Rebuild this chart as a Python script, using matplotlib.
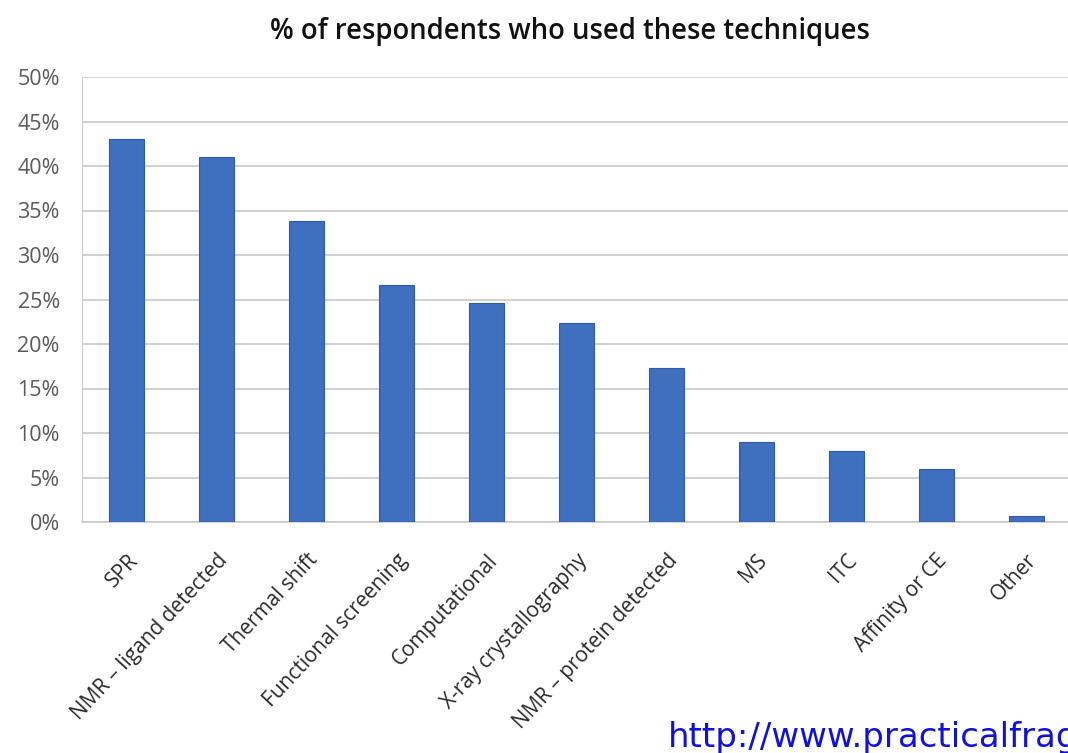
import matplotlib
matplotlib.use("Agg")
import matplotlib.pyplot as plt
import matplotlib.transforms as mtransforms
from matplotlib.ticker import PercentFormatter

categories = ["SPR", "NMR – ligand detected", "Thermal shift", "Functional screening",
              "Computational", "X-ray crystallography", "NMR – protein detected",
              "MS", "ITC", "Affinity or CE", "Other"]
values = [43.0, 41.0, 33.8, 26.6, 24.6, 22.4, 17.3, 9.0, 8.0, 5.9, 0.7]
yticks = [0, 5, 10, 15, 20, 25, 30, 35, 40, 45, 50]

plt.rcParams['font.family'] = ['Open Sans', 'DejaVu Sans']

fig = plt.figure(figsize=(10.68, 7.53), dpi=100)
ax = fig.add_axes([82/1068, 1-522/753, (1071-82)/1068, (522-77)/753])

x = list(range(len(categories)))
ax.bar(x, values, width=0.39, color="#3f6fbf", edgecolor="#2f5aa8", linewidth=0.8, zorder=3)

ax.set_xlim(-0.5, len(categories) - 0.5)
ax.set_ylim(0, 50)
ax.set_yticks(yticks)
ax.yaxis.set_major_formatter(PercentFormatter(decimals=0))
ax.grid(axis='y', color="#c8c8c8", linewidth=1.2, zorder=0)
ax.set_xticks(x)
ax.set_xticklabels(categories, rotation=47, ha='right', rotation_mode='anchor',
                   fontsize=15, color="#2a2a2a")
offset = mtransforms.ScaledTranslation(-8/100, 0, fig.dpi_scale_trans)
for lab in ax.get_xticklabels():
    lab.set_transform(lab.get_transform() + offset)
ax.tick_params(axis='y', labelsize=15.5, labelcolor="#5a5a5a", length=0, pad=16)
ax.tick_params(axis='x', length=0, pad=20)
for s in ['top', 'right']:
    ax.spines[s].set_visible(False)
ax.spines['left'].set_color("#d0d0d0")
ax.spines['bottom'].set_color("#c8c8c8")
ax.spines['bottom'].set_linewidth(1.2)

fig.text(570/1068, 1-32/753, "% of respondents who used these techniques",
         ha='center', va='center', fontsize=19.8, fontweight='semibold', color="#111111")
fig.text(668/1068, 1-738/753, "http://www.practicalfragments.blogspot.com",
         ha='left', va='center', fontsize=24.5, color="#1010e0", family=['DejaVu Sans'])

fig.savefig("out.png", dpi=100)
